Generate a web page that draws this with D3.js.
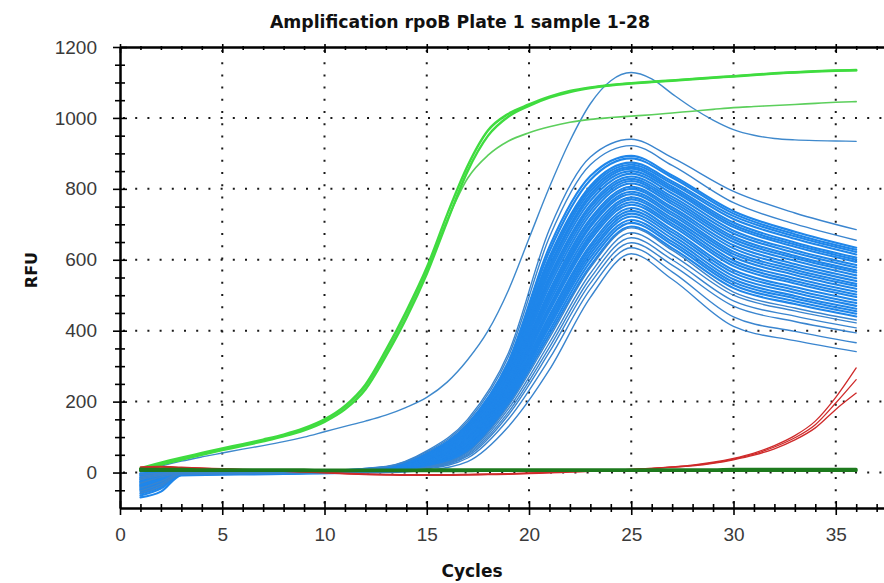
<!DOCTYPE html>
<html><head><meta charset="utf-8">
<script src="https://cdn.jsdelivr.net/npm/d3@7"></script>
<style>html,body{margin:0;padding:0;background:#fff;}svg{display:block;}</style>
</head><body>
<svg id="chart" width="884" height="583"></svg>
<script>
// ---------- data ----------
const titleText = "Amplification rpoB Plate 1 sample 1-28";
const yTickLabels = [0, 200, 400, 600, 800, 1000, 1200];
const xTickLabels = [0, 5, 10, 15, 20, 25, 30, 35];
const cycles = d3.range(1, 37); // 1..36

const greenA = [12,28,42,55,68,80,93,107,125,150,188,248,345,455,578,728,865,965,1012,1038,1060,1076,1086,1093,1098,1102,1106,1110,1114,1118,1122,1126,1129,1132,1134,1135];
const greenB = [6,22,36,50,63,75,88,102,119,143,178,234,328,435,560,708,850,950,1004,1034,1057,1073,1084,1092,1097,1101,1105,1109,1113,1117,1121,1125,1128,1131,1133,1134];
const greenLow = [10,25,39,52,65,78,91,105,122,147,184,242,336,445,570,712,830,895,935,958,975,988,996,1001,1005,1009,1014,1019,1024,1029,1032,1035,1038,1041,1044,1046];

const singleBlue = [2,18,32,44,55,66,76,87,100,115,130,145,162,184,212,255,318,400,515,660,805,935,1040,1105,1128,1110,1068,1028,994,967,951,942,938,936,935,934];

const red1 = [14,16,14,12,10,8,6,4,2,0,-3,-5,-6,-7,-7,-7,-6,-5,-4,-2,0,2,4,6,9,12,16,21,29,40,55,76,104,145,212,295];
const red2 = [12,15,13,11,9,7,5,3,1,-1,-4,-6,-7,-8,-8,-8,-7,-6,-5,-3,-1,1,3,5,8,11,15,20,27,38,52,72,98,135,196,262];
const red3 = [16,17,15,13,11,9,7,5,3,1,-2,-4,-5,-6,-6,-6,-5,-4,-3,-1,1,3,5,7,9,12,15,19,26,36,49,67,92,126,178,224];

const darkGreen1 = [10,9,9,8,8,8,8,8,8,7,7,7,7,7,8,8,8,8,8,8,8,8,8,8,8,8,8,8,8,9,9,9,9,9,9,9];
const darkGreen2 = [6,6,6,6,6,6,6,6,5,5,5,5,5,5,5,5,5,6,6,6,6,6,6,6,6,6,6,6,6,6,6,6,6,6,6,6];

// blue bundle: values at these cycles
const bundleCycles = [1,2,3,8,13,15,17,19,21,23,25,27,30,33,36];
const bundleTop = [
  [-5,-2,1,1,17,61,150,338,686,890,940,888,793,732,685],
  [-12,-4,0,0,16,58,144,328,664,868,922,866,761,701,655]
];
const bundleMain = [
  [-20,-8,1,2,15,54,137,314,637,836,893,838,737,679,634],
  [-30,-14,-1,0,14,52,132,308,624,825,886,832,730,672,628],
  [-8,-3,2,1,13,49,127,301,608,808,874,821,723,666,622],
  [-40,-22,-2,-1,13,48,125,297,602,801,868,815,715,659,615],
  [-15,-6,0,1,12,47,122,293,593,793,862,807,705,649,606],
  [-50,-30,-3,-2,12,45,118,288,582,784,857,801,698,643,600],
  [-25,-10,1,0,11,44,116,284,575,776,850,795,692,637,594],
  [-35,-18,-1,1,11,42,113,280,565,766,843,787,682,627,585],
  [-2,0,2,2,10,40,109,274,553,755,835,778,674,620,578],
  [-45,-28,-2,-1,10,39,107,270,546,747,828,771,665,611,570],
  [-18,-7,0,0,9,38,104,266,537,738,822,764,658,605,564],
  [-55,-35,-4,-2,9,36,100,261,526,728,815,757,650,597,556],
  [-28,-12,-1,0,8,34,96,255,513,716,806,748,641,588,548],
  [-10,-4,1,1,7,32,94,251,505,708,800,741,632,580,540],
  [-38,-20,-2,-1,7,32,92,247,497,699,792,733,623,572,532],
  [-60,-40,-5,-3,7,31,89,243,491,692,785,726,616,565,526],
  [-22,-9,0,0,6,29,87,239,481,681,776,717,608,557,518],
  [-48,-26,-3,-2,6,27,83,234,470,671,770,710,598,548,510],
  [-6,-2,1,1,5,27,81,230,463,663,762,702,590,540,502],
  [-33,-15,-1,0,5,25,79,227,455,655,755,695,582,533,495],
  [-65,-45,-6,-3,4,23,75,221,443,642,746,685,571,523,486],
  [-14,-5,0,1,4,23,73,217,436,634,738,677,563,515,478],
  [-42,-24,-2,-1,4,21,71,213,427,625,730,669,554,507,470],
  [-26,-11,0,0,3,20,69,209,419,616,722,660,545,498,462],
  [-70,-54,-8,-4,3,19,66,205,411,606,712,651,537,491,455],
  [-3,-1,2,1,3,18,63,200,400,595,704,643,529,483,448],
  [-36,-19,-1,0,2,16,60,194,389,583,694,633,520,475,440]
];
const bundleLow = [
  [-52,-32,-3,-2,2,15,57,188,380,577,690,627,509,464,430],
  [-16,-6,0,1,2,14,53,180,366,562,676,614,500,456,422],
  [-44,-25,-2,-1,1,13,50,171,353,548,662,600,484,441,408],
  [-30,-13,-1,0,1,12,46,163,340,534,648,585,469,426,394],
  [-58,-38,-4,-2,1,10,41,151,321,517,634,566,439,398,366],
  [-20,-8,0,0,0,6,31,130,290,494,617,545,412,372,341]
];

// ---------- drawing ----------
const svg = d3.select("#chart");
const W = 884, H = 583;
const x = d3.scaleLinear().domain([0, 38]).range([120, 897.1]);
const y = d3.scaleLinear().domain([-100, 1200]).range([508, 47]);

svg.append("defs").append("clipPath").attr("id","plot")
  .append("rect").attr("x", x(0)).attr("y", y(1200)).attr("width", W - x(0)).attr("height", y(-100) - y(1200));

// grid (dotted)
const grid = svg.append("g").attr("stroke", "#1a1a1a").attr("stroke-width", 2).attr("stroke-dasharray", "2,10.2");
grid.selectAll("line.v").data(xTickLabels.filter(d => d > 0)).join("line")
  .attr("x1", d => x(d)).attr("x2", d => x(d)).attr("y1", y(1200) + 3).attr("y2", y(-100));
grid.selectAll("line.h").data(yTickLabels.filter(d => d < 1200)).join("line")
  .attr("y1", d => y(d)).attr("y2", d => y(d)).attr("x1", x(0) + 3).attr("x2", W);

const plot = svg.append("g").attr("clip-path", "url(#plot)").attr("fill", "none")
  .attr("stroke-linejoin", "round").attr("stroke-linecap", "round");
const line = d3.line().x(d => x(d[0])).y(d => y(d[1])).curve(d3.curveMonotoneX);
const toPts = (xs, vs) => xs.map((c, i) => [c, vs[i]]);

// blue bundle
plot.selectAll("path.bm").data(bundleMain).join("path").attr("class","bm")
  .attr("d", v => line(toPts(bundleCycles, v))).attr("stroke", "#1f86ea").attr("stroke-width", 2.1);
plot.selectAll("path.bt").data(bundleTop.concat(bundleLow)).join("path").attr("class","bt")
  .attr("d", v => line(toPts(bundleCycles, v))).attr("stroke", "#3a85cf").attr("stroke-width", 1.4);

// single blue
plot.append("path").attr("d", line(toPts(cycles, singleBlue))).attr("stroke", "#3f89cc").attr("stroke-width", 1.4);

// green
plot.selectAll("path.g").data([greenLow]).join("path").attr("class","g")
  .attr("d", v => line(toPts(cycles, v))).attr("stroke", "#5ccf5c").attr("stroke-width", 1.6);
plot.selectAll("path.g2").data([greenB, greenA]).join("path").attr("class","g2")
  .attr("d", v => line(toPts(cycles, v))).attr("stroke", "#3fdc3f").attr("stroke-width", 2.4);

// red
plot.selectAll("path.r").data([red1, red2, red3]).join("path").attr("class","r")
  .attr("d", v => line(toPts(cycles, v))).attr("stroke", "#cf2a2a").attr("stroke-width", 1.3);

// dark green
plot.selectAll("path.dg").data([darkGreen2, darkGreen1]).join("path").attr("class","dg")
  .attr("d", v => line(toPts(cycles, v))).attr("stroke", "#1d7a1d").attr("stroke-width", 3);

// axes
const font = "'Liberation Sans', Arial, sans-serif";
const yMinor = d3.range(-50, 1200, 50).filter(d => d % 200 !== 0);
const xMinor = d3.range(1, 38).filter(d => d % 5 !== 0);

const gl = svg.append("g").attr("transform", `translate(${x(0)},0)`)
  .call(d3.axisLeft(y).tickValues(yTickLabels).tickSize(7).tickSizeOuter(0).tickPadding(16).tickFormat(d3.format("d")));
gl.selectAll(".tick line").attr("x1", 7);
const glm = svg.append("g").attr("transform", `translate(${x(0)},0)`)
  .call(d3.axisLeft(y).tickValues(yMinor).tickSize(5).tickSizeOuter(0).tickFormat(""));
glm.selectAll(".tick line").attr("x1", 5);

const gb = svg.append("g").attr("transform", `translate(0,${y(-100)})`)
  .call(d3.axisBottom(x).tickValues(xTickLabels).tickSize(7).tickSizeOuter(0).tickPadding(13).tickFormat(d3.format("d")));
gb.selectAll(".tick line").attr("y1", -7);
const gbm = svg.append("g").attr("transform", `translate(0,${y(-100)})`)
  .call(d3.axisBottom(x).tickValues(xMinor).tickSize(4).tickSizeOuter(0).tickFormat(""));
gbm.selectAll(".tick line").attr("y1", -4);

const gt = svg.append("g").attr("transform", `translate(0,${y(1200)})`)
  .call(d3.axisBottom(x).tickValues(xTickLabels).tickSize(6).tickSizeOuter(0).tickFormat(""));
gt.selectAll(".tick line").attr("y1", -3);
const gtm = svg.append("g").attr("transform", `translate(0,${y(1200)})`)
  .call(d3.axisBottom(x).tickValues(xMinor).tickSize(3).tickSizeOuter(0).tickFormat(""));
gtm.selectAll(".tick line").attr("y1", -1);

svg.selectAll(".domain").attr("stroke", "#000").attr("stroke-width", 2);
svg.selectAll(".tick line").attr("stroke", "#000").attr("stroke-width", 1.6);
svg.selectAll(".tick text").attr("font-family", font).attr("font-size", 19).attr("fill", "#3a3a3a");

// titles
const tfont = "'DejaVu Sans', Verdana, sans-serif";
svg.append("text").attr("x", 460).attr("y", 28).attr("text-anchor", "middle")
  .attr("font-family", tfont).attr("font-weight", "bold").attr("font-size", 17.3).attr("fill", "#111")
  .text(titleText);
svg.append("text").attr("transform", "translate(37,270) rotate(-90)").attr("text-anchor", "middle")
  .attr("font-family", tfont).attr("font-weight", "bold").attr("font-size", 16).attr("fill", "#111")
  .text("RFU");
svg.append("text").attr("x", 472).attr("y", 577).attr("text-anchor", "middle")
  .attr("font-family", tfont).attr("font-weight", "bold").attr("font-size", 17).attr("fill", "#111")
  .text("Cycles");
</script>
</body></html>
